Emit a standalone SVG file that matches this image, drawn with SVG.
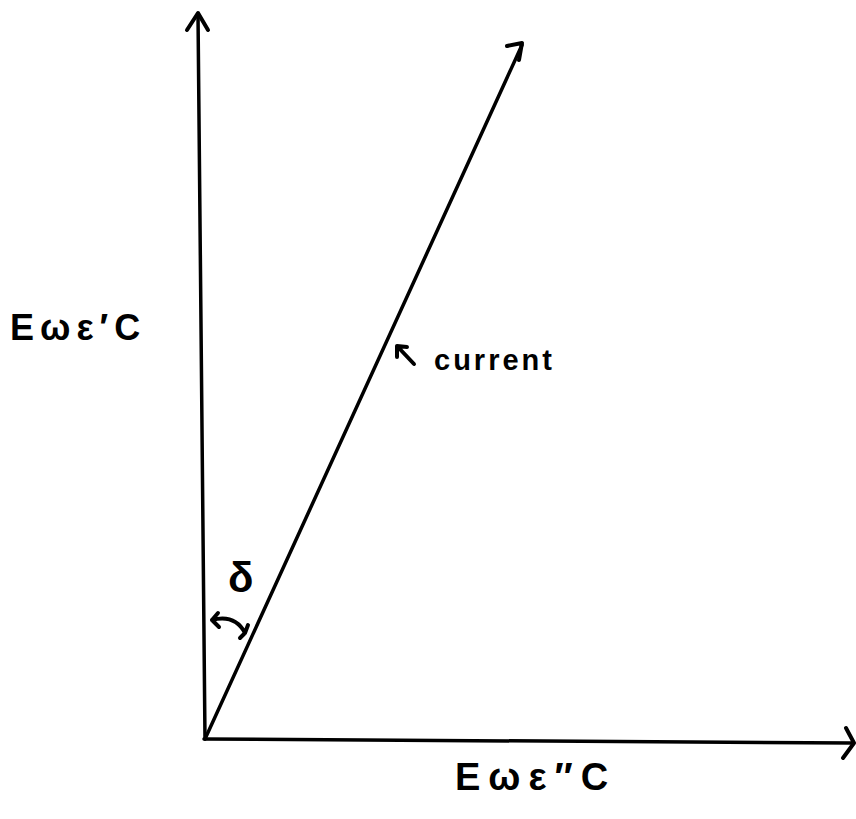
<svg xmlns="http://www.w3.org/2000/svg" width="856" height="819" viewBox="0 0 856 819">
<style>
.ax{stroke:#000;stroke-width:3.5;fill:none;stroke-linecap:round;stroke-linejoin:round}
.hd{stroke:#000;stroke-width:4;fill:none;stroke-linecap:round;stroke-linejoin:round}
.t{font-family:"Liberation Sans",Arial,sans-serif;font-weight:bold;fill:#000}
</style>
<rect width="856" height="819" fill="#fff"/>
<g id="connectors">
<path class="ax" d="M205,739 L198,14"/>
<path class="hd" d="M187,30 L198,13 L208,30"/>
<path class="ax" d="M204,739 L853,743"/>
<path class="hd" d="M846,728 L854,743 L843,758"/>
<path class="ax" d="M205,739 L522,45"/>
<path class="hd" d="M507,46 L522,43 L519,60"/>
<path class="hd" d="M414,364 L397,346 M397,346 L397,357 M397,346 L407,347"/>
<path class="hd" d="M212,620 Q235,614 245,633 M212,620 L218,613 M212,620 L219,627 M245,633 L240,638 M245,633 L248,625"/>
</g>
<g id="label-y"><text class="t" x="10" y="340" font-size="36" letter-spacing="6">Eωε′C</text></g>
<g id="label-x"><text class="t" x="455" y="790" font-size="38" letter-spacing="8">Eωε″C</text></g>
<g id="label-current"><text class="t" x="434" y="370" font-size="29" letter-spacing="3">current</text></g>
<g id="label-delta"><text class="t" x="228" y="592" font-size="42" font-weight="normal">δ</text></g>
</svg>
